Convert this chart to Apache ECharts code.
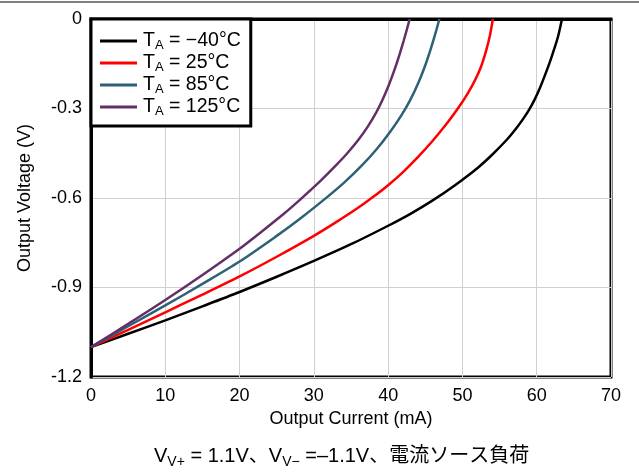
<!DOCTYPE html>
<html>
<head>
<meta charset="utf-8">
<script src="https://cdn.jsdelivr.net/npm/echarts@6/dist/echarts.min.js"></script>
<style>
html,body{margin:0;padding:0;background:#fff;}
#chart{width:639px;height:476px;}
</style>
</head>
<body>
<div id="chart"></div>
<script>
// ---- data ----
const temps = ['\u221240', '25', '85', '125'];
const colors = ['#000000', '#ff0000', '#2d6176', '#642f67'];

const currentM40 = [0, 5, 10, 15, 20, 25, 30, 35, 40, 43, 46, 49, 52, 54, 56, 57.2, 58.2, 59, 59.7, 60.4, 61.1, 61.8, 62.4, 62.9, 63.4];
const voltageM40 = [-1.1, -1.055, -1.01, -0.963, -0.915, -0.864, -0.811, -0.755, -0.693, -0.653, -0.608, -0.557, -0.5, -0.455, -0.404, -0.368, -0.334, -0.303, -0.271, -0.233, -0.189, -0.142, -0.097, -0.056, 0];

const current25 = [0, 5, 10, 15, 20, 25, 30, 33, 36, 38, 40, 42, 44, 46, 48, 49.5, 50.7, 51.7, 52.5, 53.2, 53.7, 54.1];
const voltage25 = [-1.1, -1.042, -0.983, -0.924, -0.863, -0.797, -0.727, -0.681, -0.632, -0.596, -0.557, -0.513, -0.463, -0.408, -0.347, -0.296, -0.25, -0.205, -0.16, -0.105, -0.055, 0];

const current85 = [0, 5, 10, 15, 20, 25, 28, 31, 34, 36.5, 38.5, 40.3, 41.8, 43, 44.1, 45, 45.8, 46.4, 46.9];
const voltage85 = [-1.1, -1.03, -0.96, -0.888, -0.813, -0.727, -0.672, -0.613, -0.55, -0.49, -0.435, -0.377, -0.322, -0.27, -0.212, -0.155, -0.095, -0.045, 0];

const current125 = [0, 5, 10, 15, 20, 23, 26, 28.3, 31, 33, 34.5, 36, 37.3, 38.4, 39.2, 40, 40.8, 41.5, 42.1, 42.5, 42.9];
const voltage125 = [-1.1, -1.022, -0.942, -0.858, -0.77, -0.712, -0.652, -0.602, -0.54, -0.49, -0.45, -0.405, -0.359, -0.313, -0.273, -0.227, -0.174, -0.122, -0.072, -0.037, 0];

const xTicks = [0, 10, 20, 30, 40, 50, 60, 70];
const yTicks = [0, -0.3, -0.6, -0.9, -1.2];

const xName = 'Output Current (mA)';
const yName = 'Output Voltage (V)';

// ---- build ----
const FONT = '"Liberation Sans", Arial, "Noto Sans CJK JP", sans-serif';
const currents = [currentM40, current25, current85, current125];
const voltages = [voltageM40, voltage25, voltage85, voltage125];

function zip(xs, ys) { return xs.map((x, i) => [x, ys[i]]); }

const series = temps.map((t, i) => ({
  name: t,
  type: 'line',
  data: zip(currents[i], voltages[i]),
  smooth: 0.3,
  symbol: 'none',
  lineStyle: { color: colors[i], width: 2.5 },
  itemStyle: { color: colors[i] },
  z: 3
}));

const chart = echarts.init(document.getElementById('chart'), null, { renderer: 'canvas' });
chart.setOption({
  animation: false,
  backgroundColor: '#ffffff',
  textStyle: { fontFamily: FONT },
  grid: {
    left: 91, right: 28, top: 19, bottom: 99,
    show: true, borderColor: '#000', borderWidth: 3, backgroundColor: 'transparent'
  },
  xAxis: {
    type: 'value',
    min: xTicks[0], max: xTicks[xTicks.length - 1], interval: 10,
    name: xName, nameLocation: 'middle', nameGap: 32,
    nameTextStyle: { fontSize: 18, color: '#000', fontFamily: FONT },
    axisLine: { show: true, lineStyle: { color: '#000', width: 3 } },
    axisTick: { show: false },
    axisLabel: { fontSize: 18, color: '#000', margin: 10, fontFamily: FONT },
    splitLine: { show: true, lineStyle: { color: '#d0d0d0', width: 1 } }
  },
  yAxis: {
    type: 'value',
    min: yTicks[yTicks.length - 1], max: yTicks[0], interval: 0.3,
    name: yName, nameLocation: 'middle', nameGap: 57,
    nameTextStyle: { fontSize: 18, color: '#000', fontFamily: FONT },
    axisLine: { show: true, lineStyle: { color: '#000', width: 3 } },
    axisTick: { show: false },
    axisLabel: {
      fontSize: 18, color: '#000', margin: 9, fontFamily: FONT,
      formatter: v => (Math.abs(v) < 1e-9 ? '0' : (Math.round(v * 10) / 10).toFixed(1))
    },
    splitLine: { show: true, lineStyle: { color: '#d0d0d0', width: 1 } }
  },
  legend: {
    orient: 'vertical',
    left: 91, top: 19,
    padding: [11, 10, 8, 9],
    backgroundColor: '#fff',
    borderColor: '#000', borderWidth: 3, borderRadius: 0,
    icon: 'rect',
    itemWidth: 37, itemHeight: 3, itemGap: 0,
    data: temps,
    formatter: name => '{t|T}{s|A}{t| = ' + name + '\u00b0C}',
    textStyle: {
      color: '#000', fontFamily: FONT, fontSize: 19.5, padding: [0, 0, 0, 1],
      rich: {
        t: { fontSize: 19.5, lineHeight: 21, fontFamily: FONT, color: '#000' },
        s: { fontSize: 13, lineHeight: 13, padding: [9, 0, 0, 0], fontFamily: FONT, color: '#000' }
      }
    },
    z: 10
  },
  graphic: [
    {
      type: 'line', z: 100,
      shape: { x1: 0, y1: 2, x2: 639, y2: 2 },
      style: { stroke: '#808080', lineWidth: 2 }
    },
    {
      type: 'text', z: 100,
      left: 154, top: 444,
      style: {
        text: '{n|V}{s|V+}{n| = 1.1V\u3001V}{s|V\u2212}{n| =\u20131.1V\u3001\u96fb\u6d41\u30bd\u30fc\u30b9\u8ca0\u8377}',
        rich: {
          n: { fontSize: 20, lineHeight: 22, fontFamily: FONT, fill: '#000' },
          s: { fontSize: 14, lineHeight: 14, padding: [11, 0, 0, 0], fontFamily: FONT, fill: '#000' }
        }
      }
    }
  ],
  series: series
});
</script>
</body>
</html>
